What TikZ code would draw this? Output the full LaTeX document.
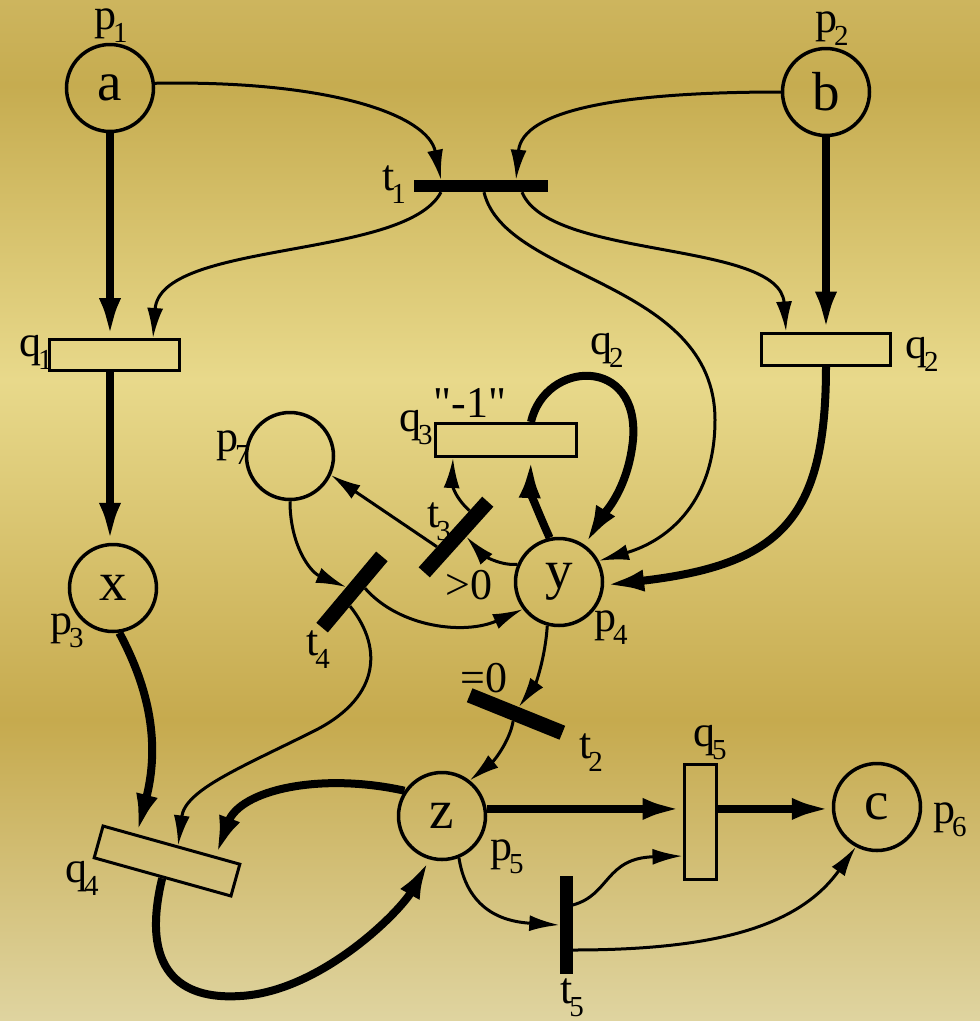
\documentclass[tikz,border=0pt]{standalone}
\usepackage{fontspec}
\setmainfont{Liberation Serif}
\newfontfamily\qfont{Liberation Serif}[Ligatures=TeXOff]
\usetikzlibrary{arrows.meta,calc}
\definecolor{gB}{RGB}{223,212,160}
\definecolor{gDa}{RGB}{198,170,78}
\definecolor{gL}{RGB}{232,217,139}
\definecolor{gDb}{RGB}{198,172,80}
\definecolor{gT}{RGB}{205,181,94}
\pgfdeclareverticalshading{goldbg}{100bp}{color(0bp)=(gB); color(25bp)=(gB); color(39.74bp)=(gDa); color(56.39bp)=(gL); color(70.84bp)=(gDb); color(75bp)=(gT); color(100bp)=(gT)}
\newcommand{\pnsub}[2]{#1\kern-3pt\raisebox{-13pt}{\fontsize{29}{29}\selectfont #2}}
\begin{document}
\begin{tikzpicture}[x=1pt,y=-1pt,
  place/.style={circle,draw,line width=3.5pt,minimum size=87pt,inner sep=0pt,font=\fontsize{55}{55}\selectfont},
  tbar/.style={rectangle,fill=black,inner sep=0pt},
  qbox/.style={rectangle,draw,line width=3pt,inner sep=0pt},
  arcthin/.style={line width=3pt,-{Latex[length=30pt,width=16pt]}},
  arcthick/.style={line width=8pt,-{Latex[length=40pt,width=22pt]}},
  lab/.style={anchor=base west,inner sep=0pt,font=\fontsize{44}{44}\selectfont}]
\shade[shading=goldbg] (0,0) rectangle (980,1021);
\useasboundingbox (0,0) rectangle (980,1021);
% places
\node[place] (a) at (110,88) {a};
\node[place] (b) at (826,92) {b};
\node[place] (x) at (113,588) {x};
\node[place] (p7) at (290,456) {};
\node[place] (y) at (559,582) {y};
\node[place] (z) at (442,816) {z};
\node[place] (c) at (877,807) {c};
% boxes
\node[qbox,minimum width=130pt,minimum height=31pt] (q1) at (114,355) {};
\node[qbox,minimum width=129pt,minimum height=32pt] (q2) at (826,349) {};
\node[qbox,minimum width=141pt,minimum height=33pt] (q3) at (506,440) {};
\node[qbox,minimum width=32pt,minimum height=115pt] (q5) at (700,822) {};
\node[qbox,minimum width=142pt,minimum height=33pt,rotate=-15.6] (q4) at (167,861) {};
% transitions
\node[tbar,minimum width=134pt,minimum height=12pt] (t1) at (481,186) {};
\node[tbar,minimum width=100pt,minimum height=15pt,rotate=-22] (t2) at (516,714) {};
\node[tbar,minimum width=95pt,minimum height=15pt,rotate=48] (t3) at (456,537) {};
\node[tbar,minimum width=93pt,minimum height=15pt,rotate=50] (t4) at (352,592) {};
\node[tbar,minimum width=13pt,minimum height=98pt] (t5) at (566,925) {};
% labels
\node[lab] (lp1) at (94,29) {\pnsub{p}{1}};
\node[lab] (lp2) at (815,32) {\pnsub{p}{2}};
\node[lab] (lt1) at (382,190) {\pnsub{t}{1}};
\node[lab] (lq1) at (19,356) {\pnsub{q}{1}};
\node[lab] (lq2) at (905,358) {\pnsub{q}{2}};
\node[lab] (lq2b) at (590,354) {\pnsub{q}{2}};
\node[lab] (lq3) at (399,431) {\pnsub{q}{3}};
\node[lab,anchor=base,font=\qfont\fontsize{44}{44}\selectfont] (lm1) at (470,417) {"-1"};
\node[lab] (lp7) at (216,451) {\pnsub{p}{7}};
\node[lab] (lt3) at (427,527) {\pnsub{t}{3}};
\node[lab] (lgt) at (445,599) {>0};
\node[lab] (lt4) at (306,655) {\pnsub{t}{4}};
\node[lab] (lp3) at (50,634) {\pnsub{p}{3}};
\node[lab] (lp4) at (594,631) {\pnsub{p}{4}};
\node[lab] (leq) at (460,692) {=0};
\node[lab] (lt2) at (579,758) {\pnsub{t}{2}};
\node[lab] (lq5) at (693,746) {\pnsub{q}{5}};
\node[lab] (lp6) at (933,823) {\pnsub{p}{6}};
\node[lab] (lp5) at (490,860) {\pnsub{p}{5}};
\node[lab] (lq4) at (65,882) {\pnsub{q}{4}};
\node[lab] (lt5) at (560,1003) {\pnsub{t}{5}};
% thick arcs
\draw[arcthick] (a.south) -- (a.south |- q1.north);
\draw[arcthick] (q1.south -| a.south) -- (x.north -| a.south);
\draw[arcthick] (b.south) -- (b.south |- q2.north);
\draw[arcthick] (q2.south) .. controls (826,520) and (780,565) .. (y.-4);
\draw[arcthick] (y.102) .. controls (537,510) and (530,490) .. ($(q3.south)+(25,0)$);
\draw[arcthick] ($(q3.north)+(25,0)$) .. controls (545,360) and (640,355) .. (633,440) .. controls (628,490) and (603,515) .. (y.55);
\draw[arcthick] (x.-82) .. controls (150,690) and (160,745) .. ($(q4.north)!0.5!(q4.north west)$);
\draw[arcthick] (z.146) .. controls (320,772) and (240,790) .. ($(q4.north)!0.63!(q4.north east)$);
\draw[arcthick] (q4.south) .. controls (140,970) and (180,1000) .. (240,996) .. controls (320,992) and (400,912) .. (z.254);
\draw[arcthick] (z.9) -- (z.9 -| q5.west);
\draw[arcthick] (q5.east |- z.9) -- (c.west |- z.9);
% thin arcs
\draw[arcthin] (a.6) .. controls (330,80) and (428,115) .. ($(t1.north)+(-40,0)$);
\draw[arcthin] (b.west) .. controls (620,92) and (522,110) .. ($(t1.north)+(35,0)$);
\draw[arcthin] ($(t1.south)+(-40,0)$) .. controls (405,260) and (160,240) .. ($(q1.north)+(39,0)$);
\draw[arcthin] ($(t1.south)+(41,0)$) .. controls (550,260) and (780,240) .. ($(q2.north)+(-40,0)$);
\draw[arcthin] ($(t1.south)+(3,0)$) .. controls (505,280) and (715,280) .. (715,420) .. controls (715,500) and (670,540) .. (y.28);
\draw[arcthin] (y.157) .. controls (497,566) and (480,552) .. ($(t3.south)!0.15!(t3.south east)$);
\draw[arcthin] ($(t3.north)!0.6!(t3.north east)$) .. controls (452,495) and (452,480) .. ($(q3.south)+(-53,0)$);
\draw[arcthin] ($(t3.north)!0.42!(t3.north west)$) -- (p7.-25);
\draw[arcthin] (p7.south) .. controls (290,545) and (310,572) .. (t4.north);
\draw[arcthin] ($(t4.south)!0.24!(t4.south east)$) .. controls (400,628) and (465,635) .. (y.217);
\draw[arcthin] ($(t4.south)!0.26!(t4.south west)$) .. controls (385,650) and (378,700) .. (312,732) .. controls (240,768) and (185,790) .. ($(q4.north)!0.09!(q4.north east)$);
\draw[arcthin] (y.255) .. controls (545,660) and (535,685) .. (t2.north);
\draw[arcthin] (t2.south) .. controls (510,740) and (495,760) .. (z.52);
\draw[arcthin] (z.292) .. controls (468,915) and (510,922) .. (t5.west);
\draw[arcthin] ($(t5.east)+(0,-20)$) .. controls (610,895) and (605,858) .. ($(q5.west)+(0,34)$);
\draw[arcthin] ($(t5.east)+(0,25)$) .. controls (720,950) and (800,925) .. (c.242);
\end{tikzpicture}
\end{document}
